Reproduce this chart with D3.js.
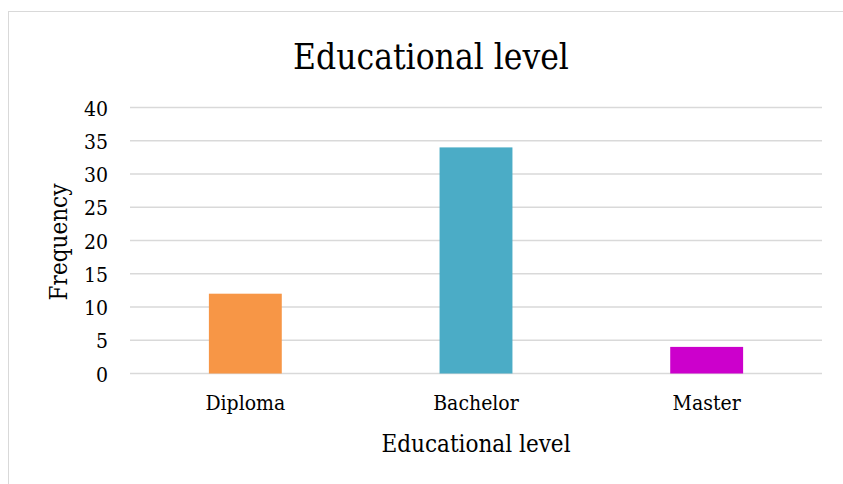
<!DOCTYPE html>
<html><head><meta charset="utf-8">
<script src="https://cdn.jsdelivr.net/npm/d3@7"></script>
<style>body{margin:0;background:#fff}</style>
</head><body>
<svg id="c" width="843" height="484"></svg>
<script>
const categories = ["Diploma", "Bachelor", "Master"];
const values = [12, 34, 4];
const colors = ["#F79646", "#4BACC6", "#CC00CC"];
const yTicks = [0, 5, 10, 15, 20, 25, 30, 35, 40];
const chartTitle = "Educational level";
const xTitle = "Educational level";
const yTitle = "Frequency";

(function () {
const font = "'DejaVu Serif Condensed', 'DejaVu Serif', serif";
const svg = d3.select("#c");
svg.append("rect").attr("x", 8.5).attr("y", 11.5).attr("width", 840).attr("height", 480)
  .attr("fill", "#fff").attr("stroke", "#d9d9d9").attr("stroke-width", 1);

const pLeft = 130, pRight = 822, pTop = 107.5, pBottom = 373.5;
const x = d3.scaleBand().domain(categories).range([pLeft, pRight]).padding(0);
const y = d3.scaleLinear().domain([0, 40]).range([pBottom, pTop]);

svg.append("g").selectAll("line").data(yTicks).join("line")
  .attr("x1", pLeft).attr("x2", pRight)
  .attr("y1", d => y(d)).attr("y2", d => y(d))
  .attr("stroke", "#d9d9d9").attr("stroke-width", 1.5);

const bw = x.bandwidth() * 0.316;
svg.append("g").selectAll("rect").data(categories).join("rect")
  .attr("x", d => x(d) + x.bandwidth() / 2 - bw / 2)
  .attr("width", bw)
  .attr("y", (d, i) => y(values[i]))
  .attr("height", (d, i) => y(0) - y(values[i]))
  .attr("fill", (d, i) => colors[i]);

const yAxis = d3.axisLeft(y).tickValues(yTicks).tickSize(0).tickPadding(0);
const ya = svg.append("g").attr("transform", `translate(108,1)`).call(yAxis);
ya.select(".domain").remove();
ya.selectAll("text").attr("font-family", font).attr("font-size", 21).attr("fill", "#000");

const xAxis = d3.axisBottom(x).tickSize(0).tickPadding(0);
const xa = svg.append("g").attr("transform", `translate(0,395)`).call(xAxis);
xa.select(".domain").remove();
xa.selectAll("text").attr("font-family", font).attr("font-size", 21).attr("fill", "#000");

svg.append("text").attr("x", 431).attr("y", 69).attr("text-anchor", "middle")
  .attr("font-family", font).attr("font-size", 35).attr("fill", "#000").text(chartTitle);
svg.append("text").attr("x", 476).attr("y", 452).attr("text-anchor", "middle")
  .attr("font-family", font).attr("font-size", 24).attr("fill", "#000").text(xTitle);
svg.append("text").attr("transform", "translate(67,242) rotate(-90)").attr("text-anchor", "middle")
  .attr("font-family", font).attr("font-size", 24).attr("fill", "#000").text(yTitle);
})();
</script>
</body></html>
